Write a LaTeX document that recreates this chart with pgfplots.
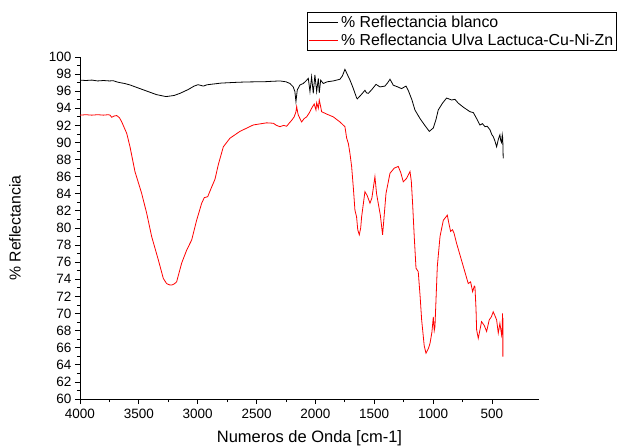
\documentclass[border=0pt]{standalone}
\usepackage{pgfplots}
\pgfplotsset{compat=1.18}
\usepackage{fontspec}
\setmainfont{Liberation Sans}
\begin{document}
\begin{tikzpicture}
\begin{axis}[
  scale only axis,
  width=459pt, height=342pt,
  x dir=reverse,
  xmin=100, xmax=4000,
  ymin=60, ymax=100,
  xtick={500,1000,...,4000},
  minor x tick num=1,
  ytick={60,62,...,100},
  minor y tick num=1,
  axis x line=bottom, axis y line=left,
  axis line style={-, line width=0.8pt},
  tick align=outside,
  major tick length=5pt, minor tick length=3pt,
  tick style={line width=0.8pt, black},
  scaled x ticks=false,
  /pgf/number format/1000 sep={},
  /pgf/number format/assume math mode=true,
  tick label style={font=\fontsize{13.5}{15}\selectfont},
  xticklabel style={yshift=-2pt},
  xlabel={Numeros de Onda [cm-1]},
  ylabel={\% Reflectancia},
  xlabel style={at={(axis description cs:0.5,-0.114)},anchor=center,font=\fontsize{16.5}{18}\selectfont},
  ylabel style={at={(axis description cs:-0.1416,0.5)},anchor=center,font=\fontsize{15.8}{17}\selectfont},
  legend style={at={(1.17,1.1316)},anchor=north east,draw=black,line width=0.6pt,
    font=\fontsize{15.9}{17}\selectfont,row sep=0pt,inner sep=1pt,
    nodes={inner xsep=2.5pt, inner ysep=2.6pt}},
  legend cell align=left,
  legend image code/.code={\draw[#1] (-1pt,0pt) -- (28pt,0pt);},
]
\addplot[black, line width=0.8pt] coordinates {
(4000,97.3)(3950,97.25)(3900,97.3)(3850,97.2)(3800,97.25)(3750,97.2)(3717,97.23)(3690,97.1)(3660,97.0)(3620,96.9)(3575,96.73)(3500,96.35)(3434,96.02)(3350,95.6)(3269,95.37)(3200,95.5)(3150,95.75)(3080,96.2)(3030,96.6)(2997,96.76)(2952,96.6)(2920,96.75)(2867,96.84)(2800,96.95)(2726,97.0)(2650,97.05)(2584,97.08)(2500,97.1)(2443,97.1)(2380,97.15)(2301,97.2)(2250,97.1)(2216,96.9)(2188,96.5)(2174,95.95)(2165,94.77)(2154,96.14)(2131,96.73)(2103,96.9)(2080,97.2)(2060,97.5)(2046,95.95)(2032,97.7)(2018,95.75)(2004,97.9)(1989,95.95)(1975,97.5)(1967,95.8)(1955,97.3)(1933,96.9)(1900,97.1)(1848,97.2)(1791,97.4)(1770,97.8)(1749,98.56)(1730,98.0)(1706,97.3)(1680,96.4)(1649,95.2)(1644,95.1)(1610,95.6)(1579,96.1)(1565,95.8)(1550,95.75)(1520,96.2)(1485,96.8)(1451,96.5)(1409,96.6)(1385,97.0)(1366,97.4)(1338,96.7)(1300,96.5)(1268,96.3)(1230,96.6)(1211,96.1)(1180,95.0)(1154,93.8)(1111,92.8)(1070,92.0)(1032,91.3)(998,91.7)(975,92.7)(956,93.8)(920,94.6)(885,95.2)(842,94.97)(814,95.05)(786,94.6)(740,94.1)(686,93.6)(658,93.5)(630,92.8)(602,92.05)(580,92.2)(559,91.85)(540,91.9)(517,91.5)(500,90.9)(489,90.7)(475,90.2)(460,89.5)(445,90.4)(432,90.9)(425,90.2)(418,90.0)(412,90.9)(408,90.5)(404,88.15)
};
\addlegendentry{\% Reflectancia blanco}
\addplot[red, line width=0.8pt] coordinates {
(4000,93.2)(3950,93.25)(3900,93.2)(3850,93.25)(3800,93.2)(3760,93.25)(3745,93.2)(3730,92.95)(3710,93.1)(3688,93.15)(3665,92.9)(3646,92.43)(3603,91.07)(3575,89.5)(3533,86.6)(3476,84.05)(3433,81.7)(3391,79.0)(3335,76.3)(3292,74.1)(3264,73.5)(3240,73.35)(3221,73.33)(3200,73.45)(3179,73.7)(3136,75.9)(3094,77.4)(3051,78.6)(3009,80.9)(2966,82.9)(2944,83.55)(2915,83.66)(2881,84.8)(2853,85.7)(2825,87.4)(2782,89.5)(2726,90.5)(2641,91.3)(2528,92.05)(2414,92.3)(2357,92.25)(2330,92.0)(2301,91.85)(2270,92.0)(2244,91.9)(2220,92.3)(2201,92.6)(2180,93.0)(2165,93.6)(2159,94.2)(2150,93.5)(2145,93.2)(2117,92.4)(2095,92.8)(2074,93.0)(2050,93.5)(2032,94.0)(2010,94.5)(1995,93.8)(1989,94.65)(1975,94.0)(1967,94.97)(1955,94.2)(1947,93.6)(1900,93.3)(1848,93.0)(1791,92.4)(1749,91.85)(1734,90.5)(1720,89.9)(1706,88.7)(1692,87.2)(1678,84.8)(1664,82.1)(1650,81.3)(1640,79.8)(1627,79.2)(1615,80.0)(1607,81.3)(1579,84.25)(1560,83.8)(1536,82.9)(1520,83.5)(1494,86.0)(1480,84.0)(1466,82.9)(1448,81.5)(1429,79.2)(1415,81.5)(1400,84.05)(1366,86.4)(1330,87.0)(1296,87.2)(1275,86.5)(1253,85.4)(1225,85.8)(1196,86.6)(1185,85.5)(1174,82.9)(1160,79.0)(1145,75.3)(1126,74.9)(1110,72.0)(1097,69.25)(1075,66.2)(1060,65.35)(1040,65.9)(1026,66.5)(1010,67.8)(998,69.6)(990,68.0)(984,68.45)(964,75.5)(941,79.0)(913,80.9)(879,81.5)(865,80.5)(851,79.6)(835,79.8)(822,79.4)(800,78.2)(743,75.5)(701,73.5)(681,73.7)(664,72.55)(650,73.2)(644,73.1)(635,70.5)(630,68.1)(616,67.1)(600,68.2)(588,69.05)(565,68.6)(545,67.9)(523,69.25)(505,69.6)(489,70.2)(470,69.6)(460,69.25)(446,67.7)(432,68.85)(418,67.5)(412,68.5)(410,70.0)(408,66.0)(407,64.95)(405,69.5)
};
\addlegendentry{\% Reflectancia Ulva Lactuca-Cu-Ni-Zn}
\end{axis}
\pgfresetboundingbox
\path (-80pt,-48pt) rectangle (538pt,399pt);
\end{tikzpicture}
\end{document}
